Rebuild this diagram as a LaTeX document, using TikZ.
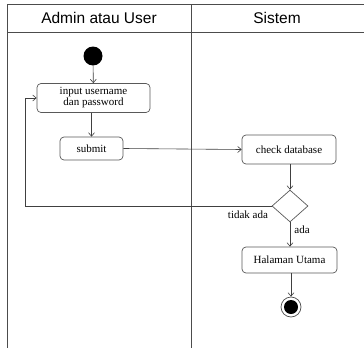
\documentclass[tikz,border=0pt]{standalone}
\usepackage{fontspec}
\setmainfont{Liberation Serif}
\newfontfamily\headfont{Liberation Sans}
\usetikzlibrary{shapes.geometric,arrows.meta}
\begin{document}
\begin{tikzpicture}[x=1pt,y=-1pt,
  lane/.style={draw=black!70, line width=0.8pt},
  act/.style={draw=black!65, rounded corners=4pt, line width=0.7pt, font=\fontsize{11}{11}\selectfont, align=center, inner sep=0pt},
  flow/.style={draw=black!75, line width=0.6pt, -{Straight Barb[length=3.5pt,width=6pt]}},
  plain/.style={draw=black!75, line width=0.6pt},
  lbl/.style={font=\fontsize{11}{11}\selectfont, inner sep=0pt},
  head/.style={font=\headfont\fontsize{15.5}{16}\selectfont, inner sep=0pt}]
\useasboundingbox (0,0) rectangle (364,348);
\fill[white] (0,0) rectangle (364,348);

% swimlanes
\draw[lane] (364,4) -- (7,4) -- (7,348);
\draw[lane] (7,32) -- (364,32);
\draw[lane] (191,4) -- (191,348);
\node[head] (hA) at (99,18) {Admin atau User};
\node[head] (hS) at (277,18) {Sistem};

% start
\node[circle, fill=black, minimum size=19pt, inner sep=0pt] (start) at (93,56) {};

% activities
\node[act, minimum width=113pt, minimum height=29pt] (input) at (93.5,98) {input username\\dan password};
\node[act, minimum width=63pt, minimum height=23pt] (submit) at (91.5,148.5) {submit};
\node[act, minimum width=94pt, minimum height=29pt] (check) at (289,149.5) {check database};
\node[diamond, draw=black!65, line width=0.7pt, minimum width=36pt, minimum height=32pt, inner sep=0pt] (dec) at (290,206) {};
\node[act, minimum width=95pt, minimum height=26pt] (home) at (289.5,260) {Halaman Utama};

% end
\node[circle, draw=black!70, line width=0.7pt, minimum size=20pt, inner sep=0pt] (stop) at (291,307) {};
\node[circle, fill=black, minimum size=14pt, inner sep=0pt] (stopin) at (291,307) {};

% flows
\draw[flow] (start) -- (input);
\draw[flow] (input.south -| submit.north) -- (submit.north);
\draw[flow] (submit.east) -- (check.west);
\draw[flow] (check.south -| dec.north) -- (dec.north);
\coordinate (back) at (25,206);
\draw[plain] (dec.west) -- (back);
\draw[flow] (back) |- (input.west);
\draw[flow] (dec.south) -- (dec.south |- home.north);
\draw[flow] (home.south -| stop.north) -- (stop.north);

% guards
\node[lbl] (tidak) at (248,215) {tidak ada};
\node[lbl] (ada) at (302,230) {ada};
\end{tikzpicture}
\end{document}
